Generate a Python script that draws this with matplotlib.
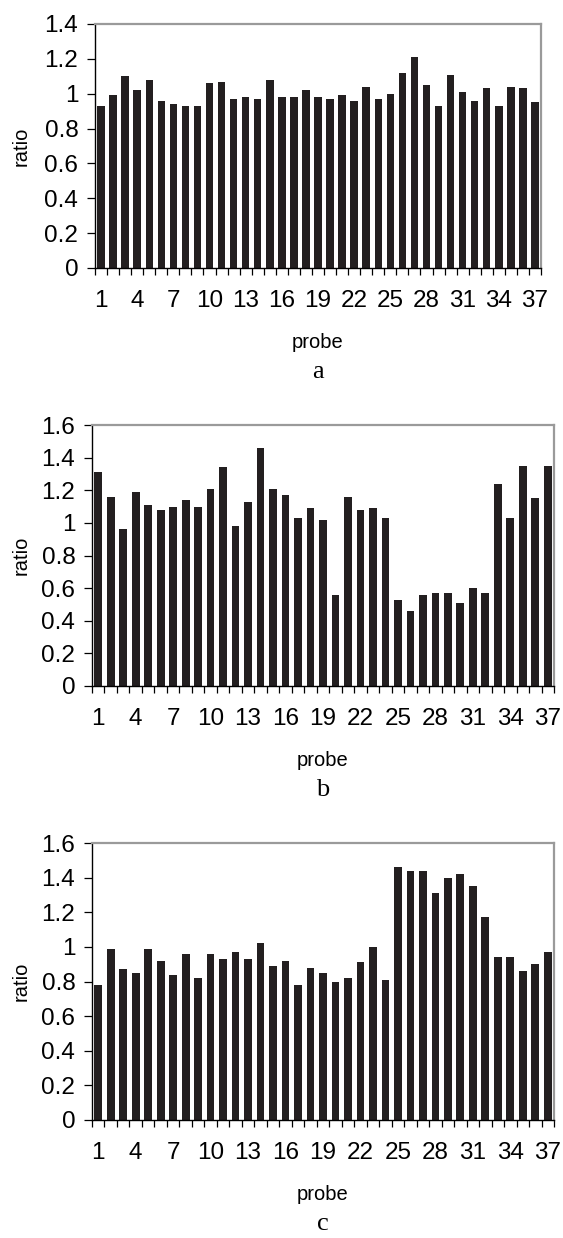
import numpy as np
import matplotlib
matplotlib.use('Agg')
import matplotlib.pyplot as plt

plt.rcParams['font.family'] = ['Liberation Sans', 'DejaVu Sans']

# probe numbers 1..37
probes = list(range(1, 38))

# ratio values
ratio_a = [0.93, 0.99, 1.10, 1.02, 1.08, 0.96, 0.94, 0.93, 0.93, 1.06,
           1.07, 0.97, 0.98, 0.97, 1.08, 0.98, 0.98, 1.02, 0.98, 0.97,
           0.99, 0.96, 1.04, 0.97, 1.00, 1.12, 1.21, 1.05, 0.93, 1.11,
           1.01, 0.96, 1.03, 0.93, 1.04, 1.03, 0.95]
ratio_b = [1.31, 1.16, 0.96, 1.19, 1.11, 1.08, 1.10, 1.14, 1.10, 1.21,
           1.34, 0.98, 1.13, 1.46, 1.21, 1.17, 1.03, 1.09, 1.02, 0.56,
           1.16, 1.08, 1.09, 1.03, 0.53, 0.46, 0.56, 0.57, 0.57, 0.51,
           0.60, 0.57, 1.24, 1.03, 1.35, 1.15, 1.35]
ratio_c = [0.78, 0.99, 0.87, 0.85, 0.99, 0.92, 0.84, 0.96, 0.82, 0.96,
           0.93, 0.97, 0.93, 1.02, 0.89, 0.92, 0.78, 0.88, 0.85, 0.80,
           0.82, 0.91, 1.00, 0.81, 1.46, 1.44, 1.44, 1.31, 1.40, 1.42,
           1.35, 1.17, 0.94, 0.94, 0.86, 0.90, 0.97]

panels = [
    # data, ymax, pixel box (left, top, right, bottom), letter
    (ratio_a, 1.4, (95, 24, 541, 268), 'a'),
    (ratio_b, 1.6, (92, 425, 554, 686), 'b'),
    (ratio_c, 1.6, (92, 843, 554, 1120), 'c'),
]

W, H = 563, 1238
fig = plt.figure(figsize=(W / 100, H / 100), dpi=100)

for vals, ymax, (l, t, r, b), letter in panels:
    ax = fig.add_axes([l / W, 1 - b / H, (r - l) / W, (b - t) / H])
    ax.bar(probes, vals, width=0.62, color='#231f20')
    ax.set_xlim(0.5, 37.5)
    ax.set_ylim(0, ymax)

    yt = np.arange(0, ymax + 0.01, 0.2)
    ax.set_yticks(yt)
    ax.set_yticklabels(['0' if v == 0 else ('1' if abs(v - 1) < 1e-9 else f'{v:.1f}') for v in yt])

    ax.set_xticks(probes[::3])
    ax.set_xticks(np.arange(0.5, 38, 1), minor=True)
    ax.tick_params(axis='x', which='major', length=0, pad=16, labelsize=17.5)
    ax.tick_params(axis='x', which='minor', length=5, width=0.9, direction='out')
    ax.tick_params(axis='y', length=6, width=0.9, labelsize=17.5, pad=6)

    for side in ['top', 'right']:
        ax.spines[side].set_color('#9a9a9a')
        ax.spines[side].set_linewidth(1.6)
    for side in ['left', 'bottom']:
        ax.spines[side].set_color('black')
        ax.spines[side].set_linewidth(1.0)

    h = b - t
    w = r - l
    ax.set_ylabel('ratio', fontsize=14.5, va='center')
    ax.yaxis.set_label_coords((21 - l) / w, 0.5)
    ax.set_xlabel('probe', fontsize=14.5, va='center')
    ax.xaxis.set_label_coords(0.5, -74 / h)

    fig.text((l + r) / 2 / W, 1 - (b + 104) / H, letter, ha='center', va='center',
             fontsize=19, family='Liberation Serif')

fig.savefig('out.png', dpi=100)
